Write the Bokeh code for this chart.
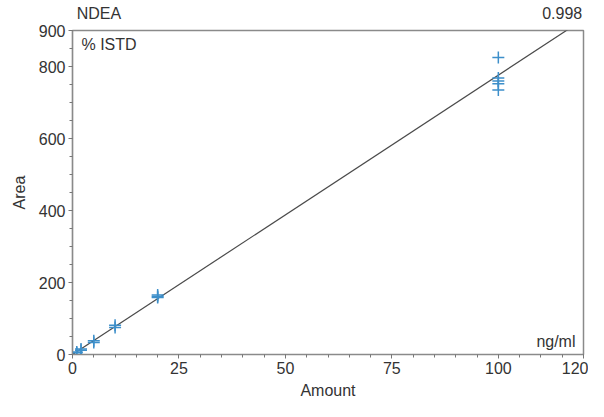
from bokeh.plotting import figure
from bokeh.models import FixedTicker, Range1d, Label, ColumnDataSource, LinearAxis
from bokeh.embed import file_html
from bokeh.resources import INLINE

# ---- data ----
amount = [1, 1, 2, 2, 5, 5, 10, 10, 20, 20, 20, 100, 100, 100, 100, 100]
area = [7, 5, 15, 12, 38, 33, 81, 75, 165, 161, 158, 825, 768, 760, 752, 735]
fit_slope = 7.76
fit_intercept = 0.0
fit_x = [0, 120]
fit_y = [fit_intercept + fit_slope * v for v in fit_x]

x_ticks = [0, 25, 50, 75, 100, 120]
x_minor = list(range(0, 121, 5))
y_ticks = [0, 200, 400, 600, 800, 900]
y_minor = list(range(0, 901, 50))

compound = "NDEA"
r_value = "0.998"
y_mode = "% ISTD"
unit = "ng/ml"
# positions (in amount units) of the header texts above the frame
header_pos = [6.2, 115.0]
header_text = [compound, r_value]

FONT = "Liberation Sans"
TXT = "#333333"
FS = "16px"

p = figure(width=588, height=401, output_backend="svg", toolbar_location=None,
           x_range=Range1d(0, 120), y_range=Range1d(0, 900),
           min_border_left=72, min_border_right=5, min_border_top=30, min_border_bottom=47)
p.outline_line_color = "#8a8a8a"
p.outline_line_width = 1.5
p.grid.visible = False
p.background_fill_color = "white"
p.border_fill_color = "white"

p.line(fit_x, fit_y, line_color="#4a4a4a", line_width=1.2)
src = ColumnDataSource(dict(x=amount, y=area))
p.scatter("x", "y", source=src, marker="cross", size=12, line_color="#3d8fca", line_width=1.5)

for ax in (p.xaxis[0], p.yaxis[0]):
    ax.axis_line_color = "#8a8a8a"
    ax.axis_line_width = 1.2
    ax.major_tick_line_color = "#777777"
    ax.minor_tick_line_color = "#777777"
    ax.major_tick_in = 0
    ax.major_tick_out = 4
    ax.minor_tick_in = 0
    ax.minor_tick_out = 3
    ax.major_label_text_font = FONT
    ax.major_label_text_font_size = FS
    ax.major_label_text_color = TXT
    ax.axis_label_text_font = FONT
    ax.axis_label_text_font_size = FS
    ax.axis_label_text_font_style = "normal"
    ax.axis_label_text_color = TXT

p.xaxis[0].ticker = FixedTicker(ticks=x_ticks, minor_ticks=x_minor)
p.yaxis[0].ticker = FixedTicker(ticks=y_ticks, minor_ticks=y_minor)
p.xaxis[0].axis_label = "Amount"
p.yaxis[0].axis_label = "Area"
p.xaxis[0].major_label_standoff = 3
p.xaxis[0].axis_label_standoff = 5
p.yaxis[0].major_label_standoff = 3
p.yaxis[0].axis_label_standoff = 8

# header texts above the frame via an unlined top axis
top = LinearAxis(ticker=FixedTicker(ticks=header_pos, minor_ticks=[]),
                 major_label_overrides={k: t for k, t in zip(header_pos, header_text)})
top.axis_line_color = None
top.major_tick_line_color = None
top.minor_tick_line_color = None
top.major_label_standoff = 3
top.major_label_text_font = FONT
top.major_label_text_font_size = FS
top.major_label_text_color = TXT
p.add_layout(top, "above")

p.add_layout(Label(x=0, y=900, x_offset=9, y_offset=-5, text=y_mode, text_baseline="top",
                   text_font=FONT, text_font_size=FS, text_color=TXT))
p.add_layout(Label(x=120, y=0, x_offset=-8, y_offset=5, text=unit, text_baseline="bottom",
                   text_align="right", text_font=FONT, text_font_size=FS, text_color=TXT))

open("out.html", "w").write(file_html(p, INLINE))
